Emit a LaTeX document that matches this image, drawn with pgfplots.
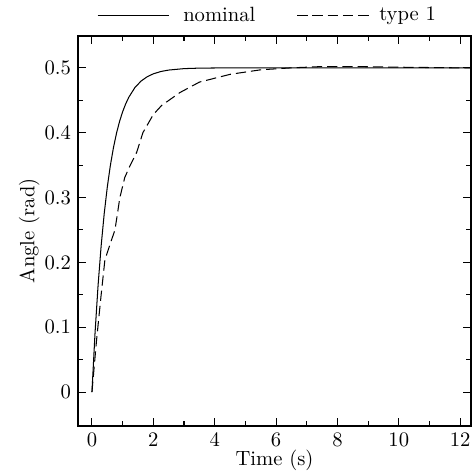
\documentclass[border=0pt]{standalone}
\usepackage{pgfplots}
\pgfplotsset{compat=1.18}
\pgfplotsset{
  nomleg/.style={legend image code/.code={\draw[##1] (0cm,0cm) -- (1.22cm,0cm); \path (1.38cm,0cm);}},
  typeleg/.style={legend image code/.code={\draw[##1] (0cm,0cm) -- (1.27cm,0cm); \path (1.32cm,0cm);}},
}
\begin{document}
\begin{tikzpicture}
\begin{axis}[
  scale only axis,
  width=190.5pt, height=189pt,
  xmin=-0.45, xmax=12.35,
  ymin=-0.052, ymax=0.549,
  xtick={0,2,4,6,8,10,12},
  ytick={0,0.1,0.2,0.3,0.4,0.5},
  yticklabels={0,0.1,0.2,0.3,0.4,0.5},
  minor xtick={1,3,5,7,9,11},
  minor ytick={0.05,0.15,0.25,0.35,0.45},
  tick align=inside,
  major tick length=3.8pt,
  minor tick length=2.4pt,
  axis line style={line width=0.8pt},
  every tick/.style={black, line width=0.5pt},
  xlabel={Time (s)},
  ylabel={Angle (rad)},
  xlabel style={yshift=5pt},
  ylabel style={yshift=-4.5pt},
  legend columns=2,
  legend style={at={(0.485,1.008)}, anchor=south, draw=none, fill=none,
    /tikz/every even column/.append style={column sep=18pt}},
]
\addplot[black, line width=0.5pt, nomleg] coordinates {
(0,0) (0.1,0.0906) (0.2,0.1648) (0.3,0.2256) (0.4,0.2753) (0.5,0.3161)
(0.6,0.3494) (0.7,0.3767) (0.8,0.3991) (0.9,0.4174) (1.0,0.4323)
(1.1,0.4445) (1.2,0.4546) (1.4,0.4696) (1.6,0.4796) (1.8,0.4863)
(2.0,0.4908) (2.25,0.4944) (2.5,0.4966) (3.0,0.4988) (3.5,0.4996)
(4.0,0.4998) (5.0,0.5) (8,0.5) (12.5,0.5)
};
\addlegendentry{nominal}
\addplot[black, line width=0.5pt, dash pattern=on 5pt off 2.4pt, typeleg] coordinates {
(0,0) (0.15,0.08) (0.3,0.15) (0.42,0.203) (0.5,0.215) (0.59,0.228)
(0.75,0.25) (0.91,0.30) (1.07,0.331) (1.24,0.349) (1.46,0.37)
(1.66,0.40) (2.0,0.428) (2.27,0.442) (2.87,0.462) (3.5,0.478)
(4.5,0.49) (5.5,0.497) (6.5,0.5) (7.5,0.502) (8.5,0.502)
(10,0.501) (12,0.5) (12.5,0.5)
};
\addlegendentry{type 1}
\end{axis}
\pgfresetboundingbox
\path ([shift={(-37.9pt,-23.3pt)}]current axis.south west) rectangle ([shift={(1.5pt,17.5pt)}]current axis.north east);
\end{tikzpicture}
\end{document}
